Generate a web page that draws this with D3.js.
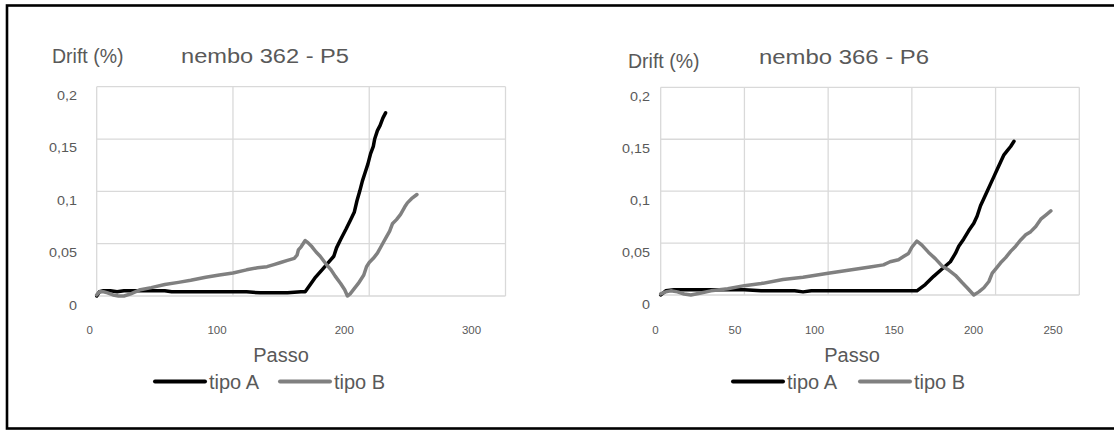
<!DOCTYPE html>
<html>
<head>
<meta charset="utf-8">
<script src="https://cdn.jsdelivr.net/npm/d3@7"></script>
<style>
  html, body { margin: 0; padding: 0; background: #fff; }
  svg { display: block; font-family: "Liberation Sans", Arial, sans-serif; }
</style>
</head>
<body>
<svg id="chart" width="1114" height="430"></svg>
<script>
// Drift (%) per passo, nembo 362 - P5
const p5TipoA = [
  [0, 0.000], [2, 0.004], [5, 0.005], [10, 0.005], [15, 0.004], [20, 0.005], [25, 0.005],
  [30, 0.005], [40, 0.005], [50, 0.005], [55, 0.004], [60, 0.004], [70, 0.004], [80, 0.004],
  [90, 0.004], [100, 0.004], [110, 0.004], [120, 0.003], [130, 0.003], [140, 0.003],
  [150, 0.004], [153, 0.004], [160, 0.017], [166, 0.026], [172, 0.035], [174, 0.038],
  [176, 0.046], [179, 0.054], [183, 0.064], [186, 0.072], [189, 0.080], [191, 0.091],
  [193, 0.100], [195, 0.110], [197, 0.118], [199, 0.126], [201, 0.136], [203, 0.143],
  [204, 0.150], [206, 0.158], [208, 0.163], [210, 0.170], [212, 0.175]
];
const p5TipoB = [
  [0, 0.001], [2, 0.004], [5, 0.004], [8, 0.003], [12, 0.001], [16, 0.000], [20, 0.000],
  [25, 0.002], [32, 0.006], [40, 0.008], [50, 0.011], [60, 0.013], [69, 0.015], [80, 0.018],
  [90, 0.020], [100, 0.022], [110, 0.025], [118, 0.027], [125, 0.028], [130, 0.030],
  [135, 0.032], [140, 0.034], [145, 0.036], [147, 0.039], [148, 0.044], [150, 0.047],
  [153, 0.053], [155, 0.051], [158, 0.047], [161, 0.042], [164, 0.038], [168, 0.031],
  [172, 0.025], [175, 0.019], [179, 0.012], [182, 0.006], [184, 0.000], [186, 0.002],
  [189, 0.007], [192, 0.012], [196, 0.020], [198, 0.028], [200, 0.032], [203, 0.036],
  [206, 0.041], [209, 0.048], [212, 0.055], [215, 0.062], [217, 0.069], [220, 0.073],
  [223, 0.078], [226, 0.085], [228, 0.089], [231, 0.093], [235, 0.097]
];

// Drift (%) per passo, nembo 366 - P6
const p6TipoA = [
  [0, 0.000], [3, 0.004], [8, 0.005], [15, 0.005], [25, 0.005], [40, 0.005], [50, 0.005],
  [60, 0.004], [80, 0.004], [85, 0.003], [90, 0.004], [100, 0.004], [120, 0.004],
  [140, 0.004], [153, 0.004], [158, 0.010], [163, 0.018], [168, 0.025], [173, 0.032],
  [176, 0.040], [178, 0.047], [181, 0.054], [184, 0.062], [187, 0.069], [189, 0.076],
  [191, 0.086], [193, 0.093], [195, 0.100], [197, 0.107], [199, 0.114], [201, 0.121],
  [203, 0.128], [205, 0.135], [207, 0.139], [209, 0.143], [211, 0.148]
];
const p6TipoB = [
  [0, 0.001], [3, 0.003], [6, 0.004], [10, 0.003], [14, 0.001], [18, 0.000], [24, 0.002],
  [30, 0.004], [40, 0.006], [50, 0.009], [60, 0.011], [73, 0.015], [85, 0.017],
  [100, 0.021], [113, 0.024], [125, 0.027], [133, 0.029], [137, 0.032], [142, 0.034],
  [145, 0.037], [148, 0.040], [150, 0.046], [153, 0.052], [156, 0.048], [160, 0.041],
  [164, 0.035], [168, 0.028], [172, 0.024], [176, 0.019], [180, 0.012], [183, 0.007],
  [187, 0.000], [190, 0.003], [193, 0.007], [196, 0.013], [198, 0.021], [200, 0.025],
  [203, 0.031], [206, 0.036], [209, 0.042], [212, 0.047], [215, 0.053], [218, 0.058],
  [221, 0.061], [224, 0.066], [227, 0.073], [230, 0.077], [233, 0.081]
];

const seriesNames = ["tipo A", "tipo B"];
const seriesColors = ["#000000", "#808080"];
const yTicks = [0, 0.05, 0.1, 0.15, 0.2];
const p5XTicks = [0, 100, 200, 300];
const p6XTicks = [0, 50, 100, 150, 200, 250];

const svg = d3.select("#chart");
const textColor = "#595959";
const gridColor = "#d9d9d9";
const fmt = v => String(v).replace(".", ",");

// outer frame
svg.append("rect")
  .attr("x", 7).attr("y", 5.5).attr("width", 1120).attr("height", 423)
  .attr("fill", "#fff").attr("stroke", "#000").attr("stroke-width", 2.6);

function drawPanel(cfg) {
  const g = svg.append("g");
  const x = d3.scaleLinear().domain([0, cfg.xMax]).range([cfg.left, cfg.right]);
  const y = d3.scaleLinear().domain([0, 0.2]).range([cfg.bottom, cfg.top]);
  // tick labels sit on their own slightly offset band
  const xLab = d3.scaleLinear().domain([0, cfg.xMax]).range(cfg.xLabRange);
  const yLab = d3.scaleLinear().domain([0, 0.2]).range(cfg.yLabRange);

  // gridlines
  g.append("g").selectAll("line.h").data(yTicks).join("line")
    .attr("x1", cfg.left).attr("x2", cfg.right)
    .attr("y1", d => y(d)).attr("y2", d => y(d))
    .attr("stroke", gridColor).attr("stroke-width", 1.3);
  g.append("g").selectAll("line.v").data(cfg.xTicks).join("line")
    .attr("y1", cfg.top).attr("y2", cfg.bottom)
    .attr("x1", d => x(d)).attr("x2", d => x(d))
    .attr("stroke", gridColor).attr("stroke-width", 1.3);

  // axes labels
  const xAxis = g.append("g").attr("transform", `translate(0,${cfg.xLabY})`)
    .call(d3.axisBottom(xLab).tickValues(cfg.xTicks).tickSize(0).tickPadding(0).tickFormat(fmt));
  xAxis.select(".domain").remove();
  xAxis.selectAll("text").attr("fill", textColor).attr("font-size", 11.5)
    .attr("font-family", "Liberation Sans, Arial, sans-serif").attr("dy", "0.35em").attr("y", 0);

  const yAxis = g.append("g").attr("transform", `translate(${cfg.yLabX},0)`)
    .call(d3.axisLeft(yLab).tickValues(yTicks).tickSize(0).tickPadding(0).tickFormat(fmt));
  yAxis.select(".domain").remove();
  yAxis.selectAll("text").attr("fill", textColor).attr("font-size", 12.5)
    .attr("font-family", "Liberation Sans, Arial, sans-serif")
    .attr("transform", "scale(1.15,1)");

  // series
  const line = d3.line().x(d => x(d[0])).y(d => y(d[1]));
  cfg.series.forEach((s, i) => {
    g.append("path").datum(s).attr("d", line)
      .attr("fill", "none").attr("stroke", seriesColors[i])
      .attr("stroke-width", 3.5).attr("stroke-linejoin", "round").attr("stroke-linecap", "round");
  });

  // titles
  g.append("text").attr("x", cfg.driftX).attr("y", cfg.driftY)
    .attr("fill", textColor).attr("font-size", 19.5).text("Drift (%)");
  g.append("text").attr("x", cfg.titleX).attr("y", cfg.titleY)
    .attr("fill", textColor).attr("font-size", 20)
    .attr("textLength", cfg.titleWidth).attr("lengthAdjust", "spacingAndGlyphs")
    .text(cfg.title);
  g.append("text").attr("x", cfg.passoX).attr("y", 362).attr("text-anchor", "middle")
    .attr("fill", textColor).attr("font-size", 20).text("Passo");

  // legend
  seriesNames.forEach((name, i) => {
    const lx = cfg.legendX[i];
    g.append("line").attr("x1", lx).attr("x2", lx + 50).attr("y1", 381.5).attr("y2", 381.5)
      .attr("stroke", seriesColors[i]).attr("stroke-width", 4).attr("stroke-linecap", "round");
    g.append("text").attr("x", lx + 54).attr("y", 388.5)
      .attr("fill", textColor).attr("font-size", 20).text(name);
  });
}

drawPanel({
  title: "nembo 362 - P5", xMax: 300, xTicks: p5XTicks,
  left: 96.7, right: 505.5, top: 86.7, bottom: 296,
  xLabRange: [89.3, 471], xLabY: 330, yLabRange: [305, 95], yLabX: 77,
  driftX: 52, driftY: 63, titleX: 181, titleY: 63, titleWidth: 168, passoX: 281,
  legendX: [155, 280],
  series: [p5TipoA, p5TipoB]
});

drawPanel({
  title: "nembo 366 - P6", xMax: 250, xTicks: p6XTicks,
  left: 660.7, right: 1079.3, top: 87.3, bottom: 295,
  xLabRange: [655, 1052.5], xLabY: 330, yLabRange: [304, 96.7], yLabX: 650,
  driftX: 628, driftY: 68, titleX: 759, titleY: 64, titleWidth: 170, passoX: 852,
  legendX: [733, 860],
  series: [p6TipoA, p6TipoB]
});
</script>
</body>
</html>
